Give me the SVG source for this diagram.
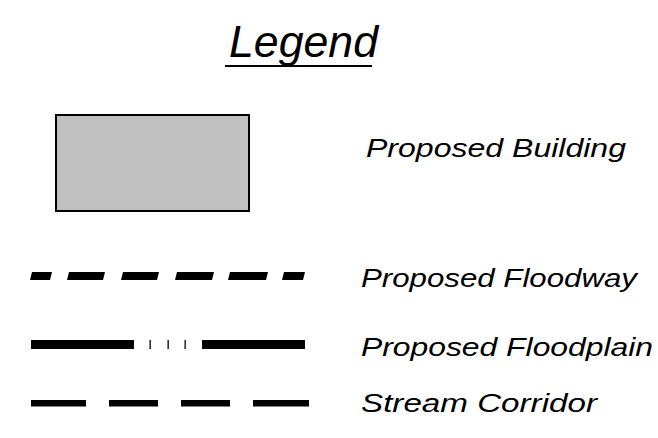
<svg xmlns="http://www.w3.org/2000/svg" width="658" height="438" viewBox="0 0 658 438">
  <style>
    .lbl { font-family: "Liberation Sans", Arial, sans-serif; font-style: italic; font-size: 26px; fill: #000; }
    .title { font-family: "Liberation Sans", Arial, sans-serif; font-style: italic; font-size: 44px; fill: #000; }
  </style>
  <rect width="658" height="438" fill="#fff"/>
  <g id="title">
    <text class="title" x="229" y="57" textLength="149" lengthAdjust="spacingAndGlyphs">Legend</text>
    <line x1="225" y1="66" x2="372" y2="66" stroke="#000" stroke-width="2"/>
  </g>
  <g id="building">
    <rect x="56" y="115" width="193" height="96" fill="#c0c0c0" stroke="#000" stroke-width="2"/>
    <text class="lbl" x="366" y="157" textLength="260" lengthAdjust="spacingAndGlyphs">Proposed  Building</text>
  </g>
  <g id="floodway">
    <g fill="#000">
      <polygon points="30,280 32,272 52,272 50,280"/>
      <polygon points="67,280 69,272 105,272 103,280"/>
      <polygon points="121,280 123,272 159,272 157,280"/>
      <polygon points="175,280 177,272 214,272 212,280"/>
      <polygon points="228,280 230,272 268,272 266,280"/>
      <polygon points="282,280 284,272 305,272 303,280"/>
    </g>
    <text class="lbl" x="361" y="287" textLength="276" lengthAdjust="spacingAndGlyphs">Proposed  Floodway</text>
  </g>
  <g id="floodplain">
    <rect x="31" y="340" width="103" height="9" fill="#000"/>
    <rect x="149.5" y="340" width="1.3" height="9" fill="#000"/>
    <rect x="167.5" y="340" width="1.3" height="9" fill="#000"/>
    <rect x="184.5" y="340" width="1.3" height="9" fill="#000"/>
    <rect x="202" y="340" width="103" height="9" fill="#000"/>
    <text class="lbl" x="361" y="356" textLength="292" lengthAdjust="spacingAndGlyphs">Proposed  Floodplain</text>
  </g>
  <g id="stream">
    <g fill="#000">
      <rect x="31" y="400" width="55" height="6.5"/>
      <rect x="109" y="400" width="49" height="6.5"/>
      <rect x="181" y="400" width="49" height="6.5"/>
      <rect x="253" y="400" width="56" height="6.5"/>
    </g>
    <text class="lbl" x="361" y="412" textLength="236" lengthAdjust="spacingAndGlyphs">Stream  Corridor</text>
  </g>
</svg>
